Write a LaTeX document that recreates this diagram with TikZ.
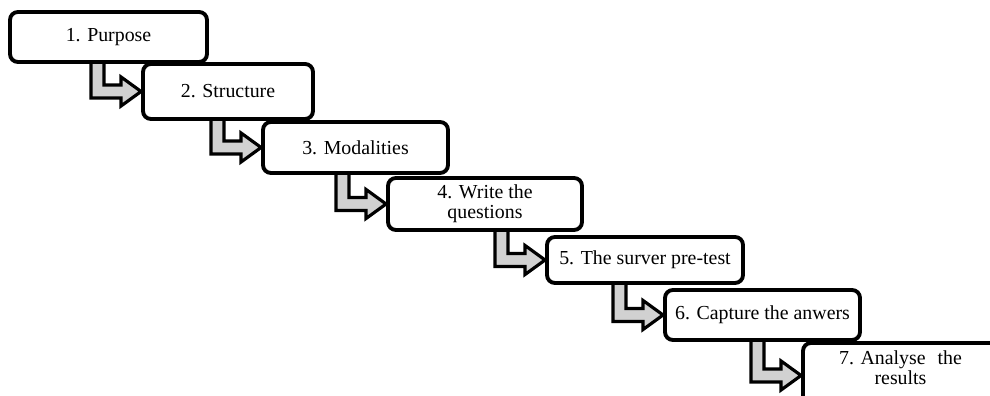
\documentclass[tikz,border=0pt]{standalone}
\usepackage{fontspec}
\setmainfont{Liberation Serif}
\usetikzlibrary{calc,backgrounds}

\tikzset{
  stepbox/.style={draw, line width=2.2pt, rounded corners=4.5pt, fill=white,
    align=center, inner sep=2pt, font=\fontsize{11.3}{11.6}\selectfont},
  steparrow/.style={draw, line width=1.8pt, fill=black!18, line join=miter}
}

\begin{document}
\begin{tikzpicture}

\clip (0,0) rectangle (19.8,7.92);

% Steps
\node[stepbox, minimum width=3.94cm, minimum height=1.0cm] (b1) at (2.17,7.18) {1. Purpose};
\node[stepbox, minimum width=3.4cm, minimum height=1.1cm] (b2) at (4.56,6.09) {2. Structure};
\node[stepbox, minimum width=3.7cm, minimum height=1.02cm] (b3) at (7.11,4.97) {3. Modalities};
\node[stepbox, minimum width=3.88cm, minimum height=1.04cm] (b4) at (9.70,3.84) {4. Write the\\questions};
\node[stepbox, minimum width=3.92cm, minimum height=0.92cm] (b5) at (12.9,2.72) {5. The surver pre-test};
\node[stepbox, minimum width=3.9cm, minimum height=1.0cm] (b6) at (15.25,1.62) {6. Capture the anwers};
% last box runs off the page
\node[stepbox, minimum width=3.9cm, minimum height=1.3cm] (b7) at (18.01,0.41)
    {\smash{\begin{tabular}{@{}c@{}}7. Analyse\hspace{0.6em}the\\results\end{tabular}}};

% L-shaped arrows between the steps
\begin{pgfonlayer}{background}
\foreach \a/\b in {b1/b2, b2/b3, b3/b4, b4/b5, b5/b6, b6/b7} {
    \draw[steparrow] let \p1=(\a.south), \p2=(\b.west) in
        (\x2-1cm,\y1+0.2cm) -- (\x2-1cm,\y2-0.13cm) -- (\x2-0.4cm,\y2-0.13cm)
        -- (\x2-0.4cm,\y2-0.29cm) -- (\p2) -- (\x2-0.4cm,\y2+0.29cm)
        -- (\x2-0.4cm,\y2+0.13cm) -- (\x2-0.74cm,\y2+0.13cm)
        -- (\x2-0.74cm,\y1+0.2cm) -- cycle;
}
\end{pgfonlayer}

\end{tikzpicture}
\end{document}
